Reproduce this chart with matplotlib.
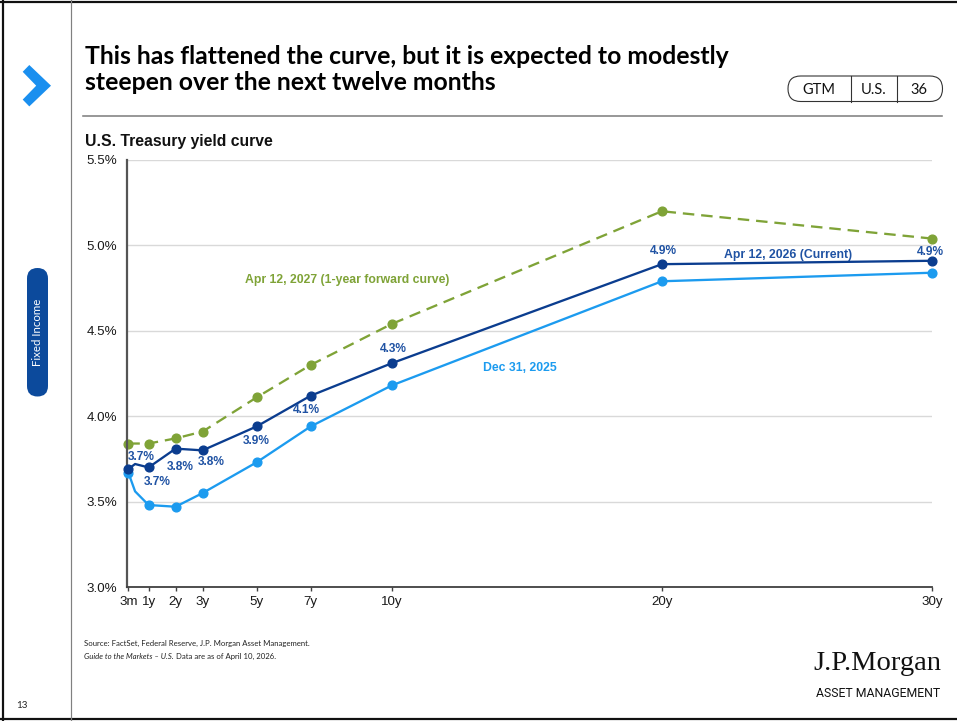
import matplotlib
matplotlib.use("Agg")
import matplotlib.pyplot as plt
from matplotlib.patches import FancyBboxPatch, Polygon

# ---- data -------------------------------------------------------------
maturities = [0.25, 0.5, 1, 2, 3, 5, 7, 10, 20, 30]
tick_positions = [0.25, 1, 2, 3, 5, 7, 10, 20, 30]
tick_labels = ["3m", "1y", "2y", "3y", "5y", "7y", "10y", "20y", "30y"]

current_yields = [3.69, 3.72, 3.70, 3.81, 3.80, 3.94, 4.12, 4.31, 4.89, 4.91]
dec2025_yields = [3.67, 3.56, 3.48, 3.47, 3.55, 3.73, 3.94, 4.18, 4.79, 4.84]
forward_yields = [3.84, 3.84, 3.84, 3.87, 3.91, 4.11, 4.30, 4.54, 5.20, 5.04]

current_name = "Apr 12, 2026 (Current)"
dec2025_name = "Dec 31, 2025"
forward_name = "Apr 12, 2027 (1-year forward curve)"

y_ticks = [3.0, 3.5, 4.0, 4.5, 5.0, 5.5]

# ---- style ------------------------------------------------------------
DARK = "#0b3d8f"
LIGHT = "#1c9bef"
GREEN = "#7fa337"
LABEL_BLUE = "#1f52a3"
ARIAL = "Liberation Sans"
CAL = "Lato"

W, H = 957, 721
fig = plt.figure(figsize=(W / 100, H / 100), dpi=100)

# page layer in pixel units (y downwards)
page = fig.add_axes([0, 0, 1, 1])
page.set_xlim(0, W)
page.set_ylim(H, 0)
page.axis("off")

PX = 0.72  # points per pixel

# frame lines
page.plot([0, W], [2, 2], color="#111111", lw=2.2 * PX)
page.plot([3, 3], [0, H], color="#111111", lw=2.2 * PX)
page.plot([0, W], [718.5, 718.5], color="#111111", lw=2.2 * PX)
page.plot([71, 71], [0, H], color="#808080", lw=1.2 * PX)
page.plot([83, 942], [116, 116], color="#808080", lw=1.6 * PX)

# chevron
page.add_patch(Polygon([(22.7, 71.8), (29.3, 65), (51, 85.7), (29.3, 106.4),
                        (22.7, 99.6), (36.2, 85.7)], closed=True,
                       fc="#1a8fef", ec="none"))

# section pill
page.add_patch(FancyBboxPatch((27, 268), 21, 128.5,
                              boxstyle="round,pad=0,rounding_size=10.5",
                              fc="#0c4a9c", ec="none"))
page.text(37.7, 332, "Fixed Income", rotation=90, color="white",
          ha="center", va="center", family=CAL, fontsize=8.3)

page.text(22, 705, "13", ha="center", va="center", family=CAL, fontsize=7,
          color="#222222")

# GTM tag
page.add_patch(FancyBboxPatch((788, 76), 154.5, 25.5,
                              boxstyle="round,pad=0,rounding_size=12.7",
                              fc="white", ec="#333333", lw=1.1 * PX))
page.plot([850.7, 850.7], [76, 101.5], color="#333333", lw=1.1 * PX)
page.plot([896.7, 896.7], [76, 101.5], color="#333333", lw=1.1 * PX)
for cx, s in [(819, "GTM"), (873.7, "U.S."), (918.5, "36")]:
    page.text(cx, 89.5, s, ha="center", va="center", family=CAL,
              fontsize=10.5, color="#111111")

renderer = fig.canvas.get_renderer()


def fit_width(t, width_px):
    bb = t.get_window_extent(renderer)
    t.set_fontsize(t.get_fontsize() * width_px / bb.width)


# headline
t1 = page.text(85, 64, "This has flattened the curve, but it is expected to modestly",
               ha="left", va="baseline", family=CAL, fontweight="bold",
               fontsize=16, color="#000000")
fit_width(t1, 646)
t2 = page.text(85, 90, "steepen over the next twelve months",
               ha="left", va="baseline", family=CAL, fontweight="bold",
               fontsize=t1.get_fontsize(), color="#000000")

ct = page.text(85, 146, "U.S. Treasury yield curve", ha="left", va="baseline",
               family=ARIAL, fontweight="bold", fontsize=10, color="#111111")
fit_width(ct, 188)

# footnotes
s1 = page.text(84, 646, "Source: FactSet, Federal Reserve, J.P. Morgan Asset Management.",
               ha="left", va="baseline", family=CAL, fontsize=7, color="#222222")
fit_width(s1, 224)
fs = s1.get_fontsize()
s2a = page.text(84, 659, "Guide to the Markets \u2013 U.S.", ha="left", va="baseline",
                family=CAL, fontsize=fs, style="italic", color="#222222")
bb = s2a.get_window_extent(renderer)
inv = page.transData.inverted()
x_end = inv.transform((bb.x1, bb.y0))[0]
page.text(x_end + 1.8, 659, "Data are as of April 10, 2026.", ha="left",
          va="baseline", family=CAL, fontsize=fs, color="#222222")

# logo
lg = page.text(941, 670, "J.P.Morgan", ha="right", va="baseline",
               family="Liberation Serif", fontsize=16, color="#111111")
fit_width(lg, 128)
am = page.text(940, 697, "ASSET MANAGEMENT", ha="right", va="baseline",
               family="Roboto", fontsize=8, color="#111111")
fit_width(am, 124)

# ---- chart ------------------------------------------------------------
left_px, right_px, top_px, bot_px = 126.7, 932, 160, 587
ax = fig.add_axes([left_px / W, 1 - bot_px / H, (right_px - left_px) / W,
                   (bot_px - top_px) / H])
ax.set_xlim(0.19, 30)
ax.set_ylim(3.0, 5.5)
ax.set_facecolor("none")

ax.set_yticks(y_ticks)
ax.set_yticklabels([f"{v:.1f}%" for v in y_ticks], family=ARIAL, fontsize=9.6,
                   color="#1a1a1a")
ax.set_xticks(tick_positions)
ax.set_xticklabels(tick_labels, family=ARIAL, fontsize=9.6, color="#1a1a1a")
ax.tick_params(axis="y", length=0, pad=7)
ax.tick_params(axis="x", length=3, width=1, color="#404040", pad=3.5)

ax.grid(axis="y", color="#d9d9d9", lw=1.0)
ax.set_axisbelow(True)
for side in ("top", "right"):
    ax.spines[side].set_visible(False)
ax.spines["left"].set_color("#555555")
ax.spines["left"].set_linewidth(1.6)
ax.spines["bottom"].set_color("#404040")
ax.spines["bottom"].set_linewidth(1.3)

marks = [i for i, m in enumerate(maturities) if m != 0.5]

ax.plot(maturities, dec2025_yields, color=LIGHT, lw=2.2 * PX * 1.05,
        marker="o", ms=6.3, markevery=marks, zorder=3, clip_on=False)
ax.plot(maturities, current_yields, color=DARK, lw=2.2 * PX * 1.05,
        marker="o", ms=6.3, markevery=marks, zorder=4, clip_on=False)
ax.plot(maturities, forward_yields, color=GREEN, lw=2.3 * PX,
        marker="o", ms=6.3, markevery=marks, dashes=(5, 3), zorder=2,
        clip_on=False)

# value labels on the current curve
label_offsets = [(9, 9), (6.4, -10.6), (3.6, -13), (6.3, -8.5), (0, -10.3),
                 (-3, -10.5), (1.4, 10.3), (1, 9.4), (-1.2, 6.5)]
for i, off in zip(marks, label_offsets):
    ax.annotate(f"{current_yields[i]:.1f}%", (maturities[i], current_yields[i]),
                xytext=off, textcoords="offset points", ha="center",
                va="center", family=ARIAL, fontweight="bold", fontsize=8.6,
                color=LABEL_BLUE, zorder=6, annotation_clip=False)

# series names
ax.text(8.34, 4.80, forward_name, color=GREEN, ha="center", va="center",
        family=ARIAL, fontweight="bold", fontsize=8.8)
ax.text(14.74, 4.28, dec2025_name, color=LIGHT, ha="center", va="center",
        family=ARIAL, fontweight="bold", fontsize=8.8)
ax.text(24.67, 4.944, current_name, color=LABEL_BLUE, ha="center", va="center",
        family=ARIAL, fontweight="bold", fontsize=8.8)

fig.savefig("out.png", dpi=100)
